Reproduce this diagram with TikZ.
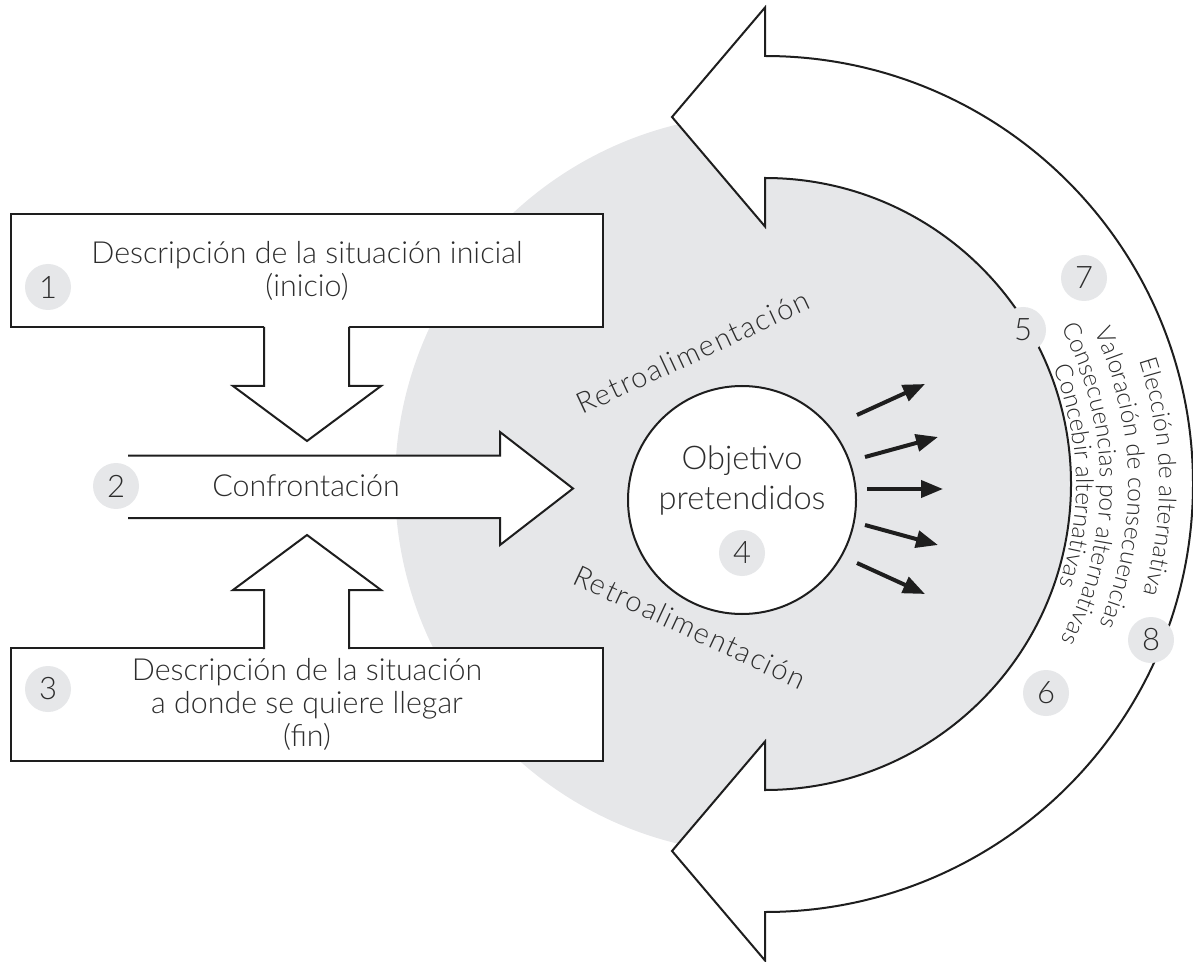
\documentclass[tikz,border=0pt]{standalone}
\usepackage{fontspec}
\setmainfont{Lato Light}
\newfontfamily\retrof{Lato Light}[LetterSpace=6]
\usetikzlibrary{arrows.meta,decorations.text}
\definecolor{bg}{RGB}{230,231,233}
\definecolor{ink}{RGB}{30,30,30}
\definecolor{txt}{RGB}{45,45,45}
\newcommand\boxfont{\fontsize{15.2}{16.5}\selectfont}
\newcommand\objfont{\fontsize{16.3}{20}\selectfont}
\newcommand\badgefont{\fontsize{15.5}{17}\selectfont}
\newcommand\curvfont{\fontsize{12.2}{14}\selectfont}
\newcommand\retrofont{\retrof\fontsize{14.5}{16}\selectfont}
\begin{document}
\begin{tikzpicture}[x=0.5pt,y=-0.5pt,
  shapeline/.style={draw=ink,line width=1pt,line join=miter},
  box/.style={shapeline,fill=white,rectangle,inner sep=0pt,minimum width=296pt,minimum height=56.5pt,align=center,font=\boxfont,text=txt},
  badge/.style={circle,fill=bg,minimum size=23pt,inner sep=0pt,font=\badgefont,text=txt},
  ray/.style={draw=ink,line width=2pt,-{Triangle[length=11pt,width=8.5pt]}},
  curv/.style={decorate,decoration={text along path,text align=center,text color=txt}}
]
\useasboundingbox (0,0) rectangle (1193,962);
% gray disc
\fill[bg] (765,484) circle[radius=370];

% boxes
\node[box] (b1) at (307,271) {Descripción de la situación inicial\\(inicio)};
\node[box] (b3) at (307,704.5) {Descripción de la situación\\a donde se quiere llegar\\(fin)};

% down arrow
\fill[white] (264,325) -- (264,386) -- (233,386) -- (307,441) -- (381,386) -- (349,386) -- (349,325) -- cycle;
\draw[shapeline] (264,327) -- (264,386) -- (233,386) -- (307,441) -- (381,386) -- (349,386) -- (349,327);
% up arrow
\fill[white] (264,651) -- (264,590) -- (233,590) -- (307,535) -- (381,590) -- (349,590) -- (349,651) -- cycle;
\draw[shapeline] (264,649) -- (264,590) -- (233,590) -- (307,535) -- (381,590) -- (349,590) -- (349,649);
% confrontation arrow
\fill[white] (128,455.5) -- (500,455.5) -- (500,432) -- (573,488.5) -- (500,545) -- (500,518) -- (128,518) -- cycle;
\draw[shapeline] (128,455.5) -- (500,455.5) -- (500,432) -- (573,488.5) -- (500,545) -- (500,518) -- (128,518);
\node[font=\boxfont,text=txt] (conf) at (306,486) {Confrontación};

% objective circle
\node[circle,shapeline,fill=white,minimum size=114pt,inner sep=0pt] (obj) at (742,500) {};
\node[font=\objfont,text=txt,align=center] (objt) at (742,481) {Objetivo\\pretendidos};

% rays
\coordinate (s1) at (857,415); \coordinate (e1) at (925,384);
\coordinate (s2) at (865,457); \coordinate (e2) at (938,437);
\coordinate (s3) at (867,489); \coordinate (e3) at (943,489);
\coordinate (s4) at (865,525); \coordinate (e4) at (938,545);
\coordinate (s5) at (857,563); \coordinate (e5) at (925,594);
\foreach \i in {1,...,5} \draw[ray] (s\i) -- (e\i);

% feedback labels
\node[font=\retrofont,text=txt,rotate=25] (r1) at (693,352) {Retroalimentación};
\node[font=\retrofont,text=txt,rotate=-25] (r2) at (690,627) {Retroalimentación};

% C-shaped double arrow
\coordinate (C) at (765,484);
\filldraw[shapeline,fill=white] (672,117) -- (765,7.5) -- (765,56)
  arc[start angle=-90,end angle=90,radius=428]
  -- (765,960.5) -- (672,851) -- (765,741.5) -- (765,790)
  arc[start angle=90,end angle=-90,radius=306]
  -- (765,226.5) -- cycle;

% curved texts
\path[curv,decoration={text={|\curvfont|Elección de alternativa}}]
  (C) ++(-75:394) arc[start angle=-75,end angle=73,radius=394];
\path[curv,decoration={text={|\curvfont|Valoración de consecuencias}}]
  (C) ++(-75:363) arc[start angle=-75,end angle=73,radius=363];
\path[curv,decoration={text={|\curvfont|Consecuencias por alternativas}}]
  (C) ++(-75:335) arc[start angle=-75,end angle=75,radius=335];
\path[curv,decoration={text={|\curvfont|Concebir alternativas}}]
  (C) ++(-75:311) arc[start angle=-75,end angle=72,radius=311];

% badges
\node[badge] (n1) at (48,287) {1};
\node[badge] (n2) at (116,486) {2};
\node[badge] (n3) at (48,689) {3};
\node[badge] (n4) at (742,553) {4};
\node[badge] (n5) at (1023,330) {5};
\node[badge] (n6) at (1046,693) {6};
\node[badge] (n7) at (1084,278) {7};
\node[badge] (n8) at (1151,640) {8};
\end{tikzpicture}
\end{document}
